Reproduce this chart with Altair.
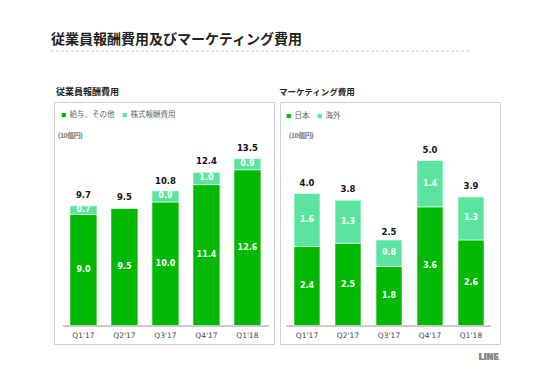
import altair as alt
import pandas as pd

quarters = ["Q1'17", "Q2'17", "Q3'17", "Q4'17", "Q1'18"]
salary = [9.0, 9.5, 10.0, 11.4, 12.6]
stock = [0.7, 0.0, 0.9, 1.0, 0.9]
emp_total = [9.7, 9.5, 10.8, 12.4, 13.5]
japan = [2.4, 2.5, 1.8, 3.6, 2.6]
overseas = [1.6, 1.3, 0.8, 1.4, 1.3]
mkt_total = [4.0, 3.8, 2.5, 5.0, 3.9]

DARK = "#00B900"
LIGHT = "#5BE4A0"
FONT = "Noto Sans CJK JP"
NUMFONT = "DejaVu Sans"
W, H = 220, 242


def panel_data(lows, highs, totals, low_name, high_name):
    rows = []
    for q, lo, hi in zip(quarters, lows, highs):
        rows.append({"q": q, "s": low_name, "order": 0, "v": lo, "start": 0.0, "end": lo})
        rows.append({"q": q, "s": high_name, "order": 1, "v": hi, "start": lo, "end": lo + hi})
    seg = pd.DataFrame(rows)
    tot = pd.DataFrame({"q": quarters, "t": totals})
    return seg, tot


def make_panel(lows, highs, totals, low_name, high_name, ymin, ymax,
               p_in, p_out, align, rule_x, rule_x2, legend_x, legend_y, unit_x, logo=False):
    seg, tot = panel_data(lows, highs, totals, low_name, high_name)
    xs = alt.Scale(domain=quarters, paddingInner=p_in, paddingOuter=p_out, align=align)
    ys = alt.Scale(domain=[ymin, ymax], nice=False, zero=False)
    x = alt.X("q:N", scale=xs, axis=None, sort=quarters)

    bars = alt.Chart(seg).mark_bar(stroke="white", strokeWidth=0.6).encode(
        x=x,
        y=alt.Y("start:Q", scale=ys, axis=None),
        y2="end:Q",
        color=alt.Color(
            "s:N",
            scale=alt.Scale(domain=[low_name, high_name], range=[DARK, LIGHT]),
            sort=[low_name, high_name],
            legend=alt.Legend(
                title=None, orient="none", direction="horizontal",
                legendX=legend_x, legendY=legend_y,
                symbolType="square", symbolSize=18, symbolStrokeWidth=0,
                labelFont=FONT, labelFontSize=7.5, labelColor="#666",
                columnPadding=6, labelOffset=2,
            ),
        ),
    )
    seg_lbl = alt.Chart(seg).transform_filter("datum.v > 0").transform_calculate(
        mid="(datum.start + datum.end) / 2", txt="format(datum.v, '.1f')"
    ).mark_text(color="white", fontWeight="bold", font=NUMFONT, fontSize=8, baseline="middle").encode(
        x=x, y=alt.Y("mid:Q", scale=ys), text="txt:N"
    )
    tot_lbl = alt.Chart(tot).transform_calculate(txt="format(datum.t, '.1f')").mark_text(
        color="#111", fontWeight="bold", font=NUMFONT, fontSize=8.5, baseline="middle", dy=-11
    ).encode(x=x, y=alt.Y("t:Q", scale=ys), text="txt:N")
    base = alt.Chart(tot).mark_rule(color="#c8c8c8", strokeWidth=1).encode(
        x=alt.value(rule_x), x2=alt.value(rule_x2), y=alt.datum(0, scale=ys)
    )
    xlab = alt.Chart(tot).mark_text(font=NUMFONT, fontSize=7.5, color="#444", baseline="middle").encode(
        x=x, y=alt.value(H - 8), text="q:N"
    )
    unit = alt.Chart(tot).mark_text(font=FONT, fontSize=6.5, fontWeight="normal", color="#999",
                                    align="left", baseline="middle").encode(
        x=alt.value(unit_x), y=alt.value(34), text=alt.value("(10億円)")
    )
    layers = [bars, seg_lbl, tot_lbl, base, xlab, unit]
    if logo:
        layers.append(
            alt.Chart(tot).mark_text(font="DejaVu Sans", fontWeight="bold", fontSize=8, color="#8a8a8a",
                                     align="right", baseline="middle").encode(
                x=alt.value(W - 1), y=alt.value(H + 14), text=alt.value("LINE")
            )
        )
    return alt.layer(*layers).properties(
        width=W, height=H, view=alt.ViewBackground(stroke="#d0d0d0", strokeWidth=1)
    ).resolve_scale(color="independent")


left = make_panel(salary, stock, emp_total, "給与、その他", "株式報酬費用",
                  -18 / 12.4, 224 / 12.4, 0.3415, 0.354, 0.55, 9, 215, 6, 9, 4)
right = make_panel(japan, overseas, mkt_total, "日本", "海外",
                   -18 / 33.1, 224 / 33.1, 0.366, 0.366, 0.467, 6, 211, 5, 10, 9, logo=True)

hdr_df = pd.DataFrame({"k": [0]})
title = alt.Chart(hdr_df).mark_text(font=FONT, fontWeight="bold", fontSize=14, color="#222",
                                    align="left", baseline="middle").encode(
    x=alt.value(-3), y=alt.value(32), text=alt.value("従業員報酬費用及びマーケティング費用")
)
dash = alt.Chart(hdr_df).mark_rule(color="#cccccc", strokeDash=[3, 2], strokeWidth=1).encode(
    x=alt.value(-3), x2=alt.value(417), y=alt.value(43)
)
sub1 = alt.Chart(hdr_df).mark_text(font=FONT, fontWeight="bold", fontSize=9, color="#222",
                                   align="left", baseline="middle").encode(
    x=alt.value(2), y=alt.value(84), text=alt.value("従業員報酬費用")
)
sub2 = alt.Chart(hdr_df).mark_text(font=FONT, fontWeight="bold", fontSize=8.5, color="#222",
                                   align="left", baseline="middle").encode(
    x=alt.value(225), y=alt.value(84), text=alt.value("マーケティング費用")
)
header = alt.layer(title, dash, sub1, sub2).properties(
    width=440, height=93, view=alt.ViewBackground(stroke="transparent", strokeWidth=0)
)

chart = alt.vconcat(
    header,
    alt.hconcat(left, right, spacing=4),
    spacing=0,
).properties(
    padding={"left": 42, "top": 0, "right": 0, "bottom": 0},
    background="white",
).configure_concat(spacing=0)

chart.save("out.html", embed_options={"renderer": "svg", "actions": False})
